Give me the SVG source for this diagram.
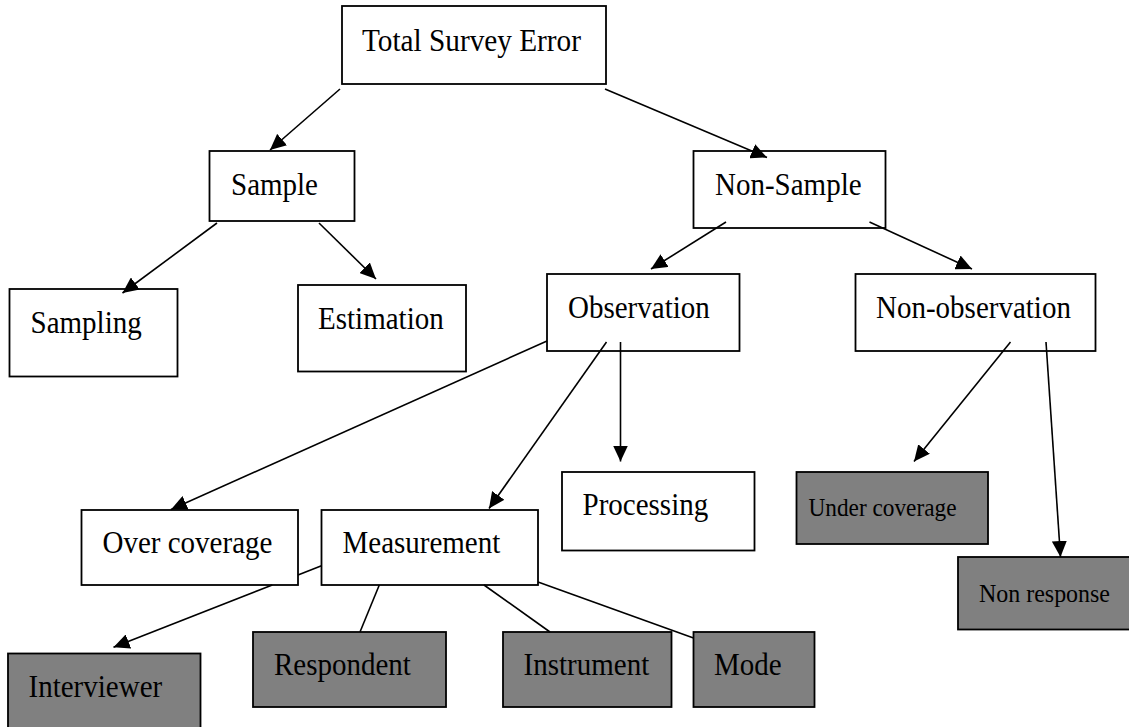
<svg xmlns="http://www.w3.org/2000/svg" width="1129" height="727" viewBox="0 0 1129 727">
<style>
.box{fill:#fff;stroke:#000;stroke-width:1.8}
.dark{fill:#808080;stroke:#000;stroke-width:1.8}
.t{font-family:"Liberation Serif","Times New Roman",serif;font-size:31px;fill:#000}
.s{font-family:"Liberation Serif","Times New Roman",serif;font-size:26px;fill:#000}
.c{stroke:#000;stroke-width:1.6;fill:none}
.a{marker-end:url(#arr)}
</style>
<defs>
<marker id="arr" markerUnits="userSpaceOnUse" markerWidth="17" markerHeight="15" refX="16" refY="7.5" orient="auto">
<path d="M0,0 L16,7.5 L0,15 z" fill="#000"/>
</marker>
</defs>
<rect width="1129" height="727" fill="#fff"/>
<g id="n-total"><rect class="box" x="342" y="6" width="264" height="78"/><text class="t" x="362" y="51" textLength="219" lengthAdjust="spacingAndGlyphs">Total Survey Error</text></g>
<g id="n-sample"><rect class="box" x="209.5" y="151" width="145" height="70"/><text class="t" x="231" y="195" textLength="87" lengthAdjust="spacingAndGlyphs">Sample</text></g>
<g id="n-nonsample"><rect class="box" x="693.5" y="151" width="192" height="77"/><text class="t" x="715" y="195" textLength="146.6" lengthAdjust="spacingAndGlyphs">Non-Sample</text></g>
<g id="n-sampling"><rect class="box" x="9.5" y="289" width="168" height="87.5"/><text class="t" x="30.5" y="333" textLength="111.2" lengthAdjust="spacingAndGlyphs">Sampling</text></g>
<g id="n-estimation"><rect class="box" x="298" y="285" width="168" height="86.5"/><text class="t" x="318" y="329" textLength="125.7" lengthAdjust="spacingAndGlyphs">Estimation</text></g>
<g id="n-observation"><rect class="box" x="547" y="274" width="192.5" height="77"/><text class="t" x="568" y="318" textLength="141.8" lengthAdjust="spacingAndGlyphs">Observation</text></g>
<g id="n-nonobservation"><rect class="box" x="855.5" y="274" width="240" height="77"/><text class="t" x="876" y="318" textLength="194.9" lengthAdjust="spacingAndGlyphs">Non-observation</text></g>
<g id="n-overcoverage"><rect class="box" x="81.5" y="510" width="216.5" height="75"/><text class="t" x="102.5" y="553" textLength="169.9" lengthAdjust="spacingAndGlyphs">Over coverage</text></g>
<g id="n-measurement"><rect class="box" x="321.5" y="510" width="216.5" height="75"/><text class="t" x="342.5" y="553" textLength="157.8" lengthAdjust="spacingAndGlyphs">Measurement</text></g>
<g id="n-processing"><rect class="box" x="562" y="472" width="192.5" height="78.5"/><text class="t" x="582.5" y="515" textLength="125.7" lengthAdjust="spacingAndGlyphs">Processing</text></g>
<g id="n-undercoverage"><rect class="dark" x="796.5" y="472" width="191.5" height="72"/><text class="s" x="808.5" y="516" textLength="148" lengthAdjust="spacingAndGlyphs">Under coverage</text></g>
<g id="n-nonresponse"><rect class="dark" x="958" y="557" width="180" height="72.5"/><text class="s" x="979" y="601.5" textLength="131" lengthAdjust="spacingAndGlyphs">Non response</text></g>
<g id="n-interviewer"><rect class="dark" x="8" y="653.5" width="192.5" height="80"/><text class="t" x="28.5" y="696.5" textLength="133.7" lengthAdjust="spacingAndGlyphs">Interviewer</text></g>
<g id="n-respondent"><rect class="dark" x="253" y="632" width="193" height="75"/><text class="t" x="274" y="675" textLength="136.9" lengthAdjust="spacingAndGlyphs">Respondent</text></g>
<g id="n-instrument"><rect class="dark" x="503" y="632" width="168.5" height="75"/><text class="t" x="523.5" y="675" textLength="125.7" lengthAdjust="spacingAndGlyphs">Instrument</text></g>
<g id="n-mode"><rect class="dark" x="693.5" y="632" width="121" height="75"/><text class="t" x="714" y="675" textLength="67.7" lengthAdjust="spacingAndGlyphs">Mode</text></g>
<g id="connectors">
<line class="c a" x1="340" y1="89" x2="270" y2="150"/>
<line class="c a" x1="605" y1="89" x2="767" y2="157.5"/>
<line class="c a" x1="217" y1="223" x2="122.5" y2="293"/>
<line class="c a" x1="319" y1="223" x2="376" y2="279"/>
<line class="c a" x1="726" y1="222" x2="651" y2="269"/>
<line class="c a" x1="869.5" y1="222" x2="972" y2="269"/>
<line class="c a" x1="547" y1="341" x2="171" y2="509.5"/>
<line class="c a" x1="606.5" y1="342" x2="489" y2="508.5"/>
<line class="c a" x1="620.5" y1="342" x2="620.5" y2="461.5"/>
<line class="c a" x1="1010.5" y1="342" x2="914" y2="461.5"/>
<line class="c a" x1="1046" y1="342" x2="1060.5" y2="557"/>
<line class="c" x1="321.5" y1="565.7" x2="298" y2="574.9"/>
<line class="c a" x1="272.3" y1="585" x2="113.5" y2="647.3"/>
<line class="c" x1="379.3" y1="585" x2="360" y2="632"/>
<line class="c" x1="484" y1="585" x2="550" y2="632"/>
<line class="c" x1="538" y1="582" x2="693.5" y2="638"/>
</g>
</svg>
